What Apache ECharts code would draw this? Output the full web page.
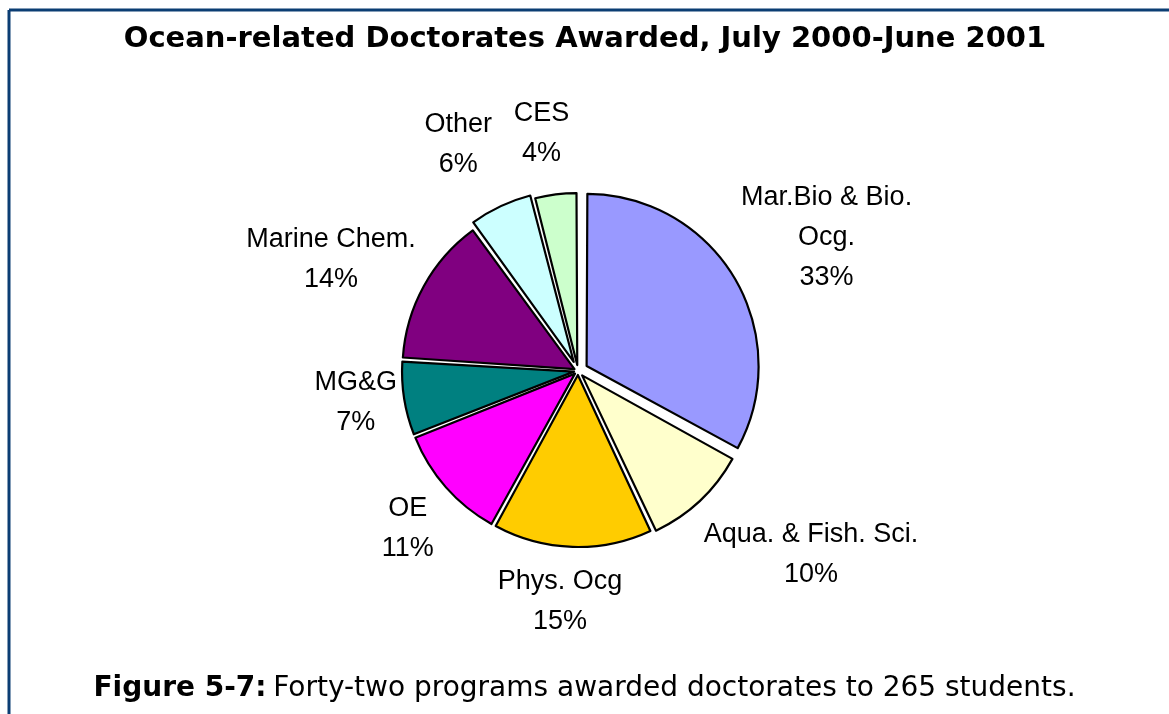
<!DOCTYPE html>
<html lang="en">
<head>
    <meta charset="UTF-8">
    <title>Ocean-related Doctorates</title>
    <script src="https://cdn.jsdelivr.net/npm/echarts@6/dist/echarts.min.js"></script>
</head>
<body style="margin:0;background:#fff;">
    <div id="main" style="width:1169px;height:714px;"></div>
</body>
<script>
// data
var categories = ['Mar.Bio & Bio.\nOcg.', 'Aqua. & Fish. Sci.', 'Phys. Ocg', 'OE', 'MG&G', 'Marine Chem.', 'Other', 'CES'];
var percents = [33, 10, 15, 11, 7, 14, 6, 4];
var colors = ['#9999ff', '#ffffcc', '#ffcc00', '#ff00ff', '#008080', '#800080', '#ccffff', '#ccffcc'];

// how far each slice is pulled out (px)
var explode = [10, 6, 4, 4, 4, 4, 10, 6];
var cx = 578, cy = 371, R = 172;
// label placement: gap from pie edge, then a small nudge
var labelGap = [8, 16, 10, 9, 8, 6, 26, 28];
var labelNudge = [[4, 11], [34, -28], [-11, 7], [0, 7], [2, -4], [-9, 19], [-14, -2], [-6, 4]];

var total = percents.reduce(function (a, b) { return a + b; }, 0);
var midAngles = [];
var acc = 0;
for (var i = 0; i < percents.length; i++) {
    midAngles.push((acc + percents[i] / 2) / total * Math.PI * 2);
    acc += percents[i];
}

// one pie series per explode distance, other slices drawn invisible
function sliceSeries(offset) {
    return {
        type: 'pie',
        center: [cx, cy],
        radius: [0, R],
        startAngle: 90,
        clockwise: true,
        padAngle: 0.5,
        selectedMode: 'multiple',
        selectedOffset: offset,
        emphasis: {disabled: true},
        silent: true,
        label: {show: false},
        labelLine: {show: false},
        data: categories.map(function (c, i) {
            var mine = explode[i] === offset;
            return {
                name: c,
                value: percents[i],
                selected: mine,
                itemStyle: mine
                    ? {color: colors[i], borderColor: '#000', borderWidth: 2.2}
                    : {color: 'rgba(0,0,0,0)', borderWidth: 0}
            };
        })
    };
}

var offsets = [];
explode.forEach(function (o) { if (offsets.indexOf(o) < 0) offsets.push(o); });
var series = offsets.map(sliceSeries);

// labels only
series.push({
    type: 'pie',
    center: [cx, cy],
    radius: [0, R],
    startAngle: 90,
    clockwise: true,
    emphasis: {disabled: true},
    silent: true,
    itemStyle: {color: 'rgba(0,0,0,0)', borderWidth: 0},
    label: {
        show: true,
        position: 'outside',
        formatter: '{b}\n{d}%',
        fontFamily: 'Liberation Sans',
        fontSize: 27,
        lineHeight: 40,
        color: '#000',
        align: 'center'
    },
    labelLine: {show: false},
    labelLayout: function (params) {
        var k = params.dataIndex;
        var a = midAngles[k];
        var ux = Math.sin(a), uy = -Math.cos(a);
        var w = params.labelRect.width, h = params.labelRect.height;
        var ext = Math.abs(ux) * w / 2 + Math.abs(uy) * h / 2;
        var d = R + labelGap[k] + ext;
        return {
            x: cx + ux * d + labelNudge[k][0],
            y: cy + uy * d + labelNudge[k][1],
            align: 'center',
            verticalAlign: 'middle'
        };
    },
    data: categories.map(function (c, i) {
        return {name: c, value: percents[i]};
    })
});

var chart = echarts.init(document.getElementById('main'));
chart.setOption({
    backgroundColor: '#ffffff',
    animation: false,
    title: {
        text: 'Ocean-related Doctorates Awarded, July 2000-June 2001',
        left: 580,
        textAlign: 'center',
        top: 20,
        textStyle: {
            fontFamily: 'DejaVu Sans',
            fontWeight: 'bold',
            fontSize: 29,
            color: '#000'
        }
    },
    graphic: [
        {
            type: 'line',
            shape: {x1: 9, y1: 10, x2: 9, y2: 714},
            style: {stroke: '#0b3d73', lineWidth: 3}
        },
        {
            type: 'line',
            shape: {x1: 9, y1: 10, x2: 1169, y2: 10},
            style: {stroke: '#0b3d73', lineWidth: 3}
        },
        {
            type: 'text',
            left: 'center',
            top: 675,
            style: {
                text: '{b|Figure 5-7:}  {r|Forty-two programs awarded doctorates to 265 students.}',
                rich: {
                    b: {fontFamily: 'DejaVu Sans', fontWeight: 'bold', fontSize: 28, fill: '#000'},
                    r: {fontFamily: 'DejaVu Sans', fontSize: 28, fill: '#000'}
                }
            }
        }
    ],
    series: series
});
</script>
</html>
